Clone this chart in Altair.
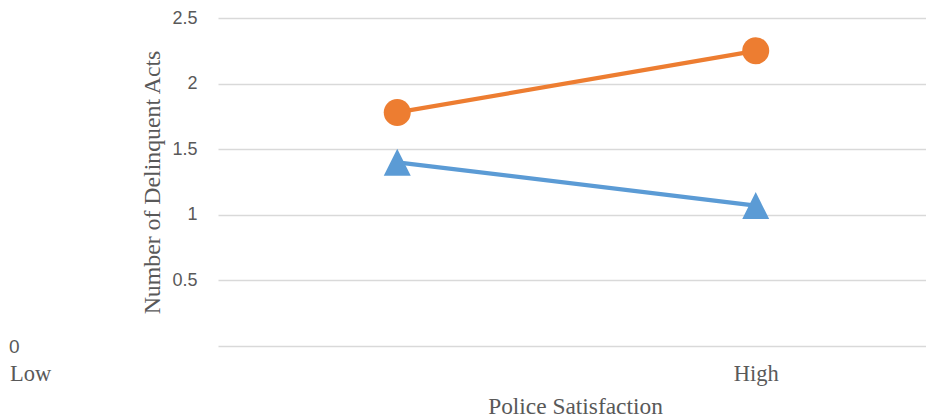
import altair as alt
import pandas as pd

# --- data ---
categories = ["Low", "High"]
series_names = ["Series 1", "Series 2"]
series_1 = [1.78, 2.25]   # orange, circles
series_2 = [1.40, 1.07]   # blue, triangles
y_ticks = [0, 0.5, 1, 1.5, 2, 2.5]

colors = ["#ED7D31", "#5B9BD5"]
shapes = ["circle", "M0,-1L1,1L-1,1Z"]

rows = []
for name, vals in zip(series_names, [series_1, series_2]):
    for i, (cat, v) in enumerate(zip(categories, vals)):
        rows.append({"series": name, "cat": cat, "x": i, "value": v})
df = pd.DataFrame(rows)

label_expr = " : ".join(
    [f"datum.value == {i} ? '{c}'" for i, c in enumerate(categories)] + ["''"]
)

GRAY = "#595959"
SERIF = "Liberation Serif"
SANS = "Liberation Sans"

x_enc = alt.X(
    "x:Q",
    scale=alt.Scale(domain=[-0.5, 1.475], nice=False, zero=False),
    axis=alt.Axis(
        values=list(range(len(categories))),
        labelExpr=label_expr,
        grid=False,
        domain=False,
        ticks=False,
        tickSize=0,
        labelFont=SERIF,
        labelFontSize=22.5,
        labelColor=GRAY,
        labelBaseline="alphabetic",
        labelPadding=34,
        labelOffset={"condition": {"test": "datum.value == 0", "value": -367}, "value": 0},
        title="Police Satisfaction",
        titleFont=SERIF,
        titleFontSize=23.4,
        titleFontWeight="normal",
        titleColor=GRAY,
        titleBaseline="alphabetic",
        titleX=357,
        titleY=67,
    ),
)

y_enc = alt.Y(
    "value:Q",
    scale=alt.Scale(domain=[0, 2.5], nice=False),
    axis=alt.Axis(
        values=y_ticks,
        format=".1~f",
        grid=True,
        gridColor="#D9D9D9",
        gridWidth=1.6,
        domain=False,
        ticks=False,
        tickSize=0,
        labelFont=SANS,
        labelFontSize={"condition": {"test": "datum.value == 0", "value": 19}, "value": 18},
        labelColor=GRAY,
        labelPadding={"condition": {"test": "datum.value == 0", "value": 199}, "value": 21},
        title="Number of Delinquent Acts",
        titleFont=SERIF,
        titleFontSize=23.8,
        titleFontWeight="normal",
        titleColor=GRAY,
        titleBaseline="alphabetic",
        titleX=-59,
    ),
)

color_enc = alt.Color(
    "series:N",
    scale=alt.Scale(domain=series_names, range=colors),
    legend=None,
)

base = alt.Chart(df).encode(x=x_enc, y=y_enc, color=color_enc)

lines = base.mark_line(strokeWidth=4.3)
points = base.mark_point(filled=True, size=729, opacity=1).encode(
    shape=alt.Shape(
        "series:N",
        scale=alt.Scale(domain=series_names, range=shapes),
        legend=None,
    )
)

chart = (
    alt.layer(lines, points)
    .properties(
        width=708,
        height=328,
        autosize=alt.AutoSizeParams(type="none"),
        padding={"left": 218, "top": 18, "right": 0, "bottom": 71},
        background="white",
    )
    .configure_view(stroke=None)
)

chart.save("out.html", embed_options={"renderer": "svg", "actions": False})
